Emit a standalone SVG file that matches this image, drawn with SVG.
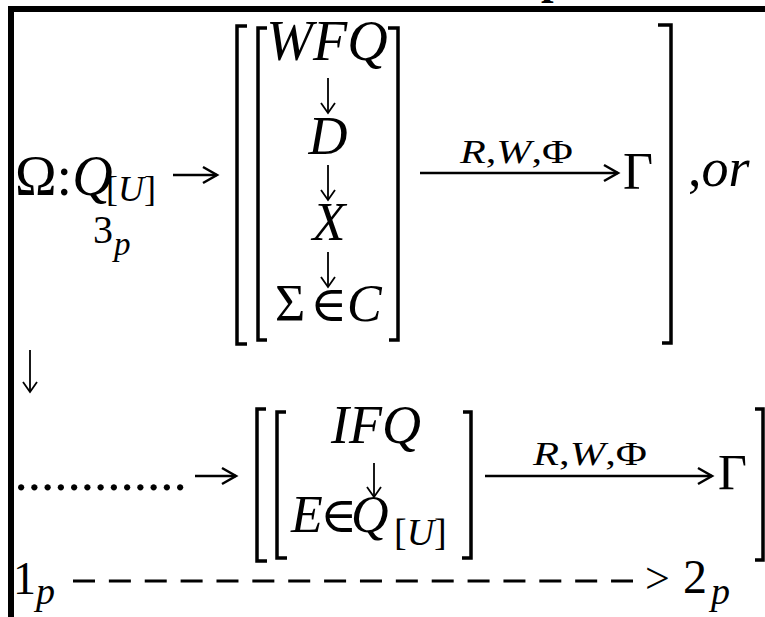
<svg xmlns="http://www.w3.org/2000/svg" width="765" height="617" viewBox="0 0 765 617">
<style>
.t{font-family:"Liberation Serif","DejaVu Serif",serif;fill:#000}
.i{font-style:italic}
.br{fill:none;stroke:#000;stroke-width:3.5}
.ln{fill:none;stroke:#000;stroke-width:2.5}
.dn{fill:none;stroke:#000;stroke-width:1.8}
</style>
<defs>
<marker id="ah" markerUnits="userSpaceOnUse" markerWidth="20" markerHeight="20" viewBox="0 0 20 20" refX="17" refY="10" orient="auto">
<path d="M3,2 L17,10 L3,18" fill="none" stroke="#000" stroke-width="2.5"/>
</marker>
<marker id="ahs" markerUnits="userSpaceOnUse" markerWidth="20" markerHeight="20" viewBox="0 0 20 20" refX="15" refY="10" orient="auto">
<path d="M5,3 L15,10 L5,17" fill="none" stroke="#000" stroke-width="1.8"/>
</marker>
</defs>
<rect width="765" height="617" fill="#fff"/>
<g id="frame">
<path d="M11,617 V9 H765" fill="none" stroke="#000" stroke-width="6"/>
<text class="t" x="541" y="-6" font-size="45" font-weight="bold">p</text>
</g>
<g id="brackets">
<path class="br" d="M247,26 H237 V344 H247"/>
<path class="br" d="M267,28 H258 V340 H267"/>
<path class="br" d="M388,28 H398 V340 H389"/>
<path class="br" d="M658,25 H671 V343 H662"/>
<path class="br" d="M266,409 H257 V561 H267"/>
<path class="br" d="M286,412 H277 V558 H287"/>
<path class="br" d="M463,412 H471 V558 H462"/>
<path class="br" d="M755,409 H763 V560 H755"/>
</g>
<g id="n-omega">
<text class="t" x="15" y="195" font-size="56">Ω:<tspan class="i">Q</tspan></text>
<text class="t" x="106" y="201" font-size="36">[<tspan class="i">U</tspan>]</text>
<text class="t" x="93" y="243" font-size="40">3</text>
<text class="t i" x="114" y="255" font-size="33">p</text>
</g>
<g id="n-wfq"><text class="t i" x="327" y="60" font-size="56" text-anchor="middle">WFQ</text></g>
<g id="n-d"><text class="t i" x="328" y="154" font-size="54" text-anchor="middle">D</text></g>
<g id="n-x"><text class="t i" x="329" y="240" font-size="54" text-anchor="middle">X</text></g>
<g id="n-sigma">
<text class="t" x="275" y="321" font-size="52">Σ</text>
<text class="t" x="310" y="321" font-size="50">∈</text>
<text class="t i" x="347" y="321" font-size="52">C</text>
</g>
<g id="n-rwf1"><text class="t" x="460" y="163" font-size="33" textLength="113" lengthAdjust="spacingAndGlyphs"><tspan class="i">R</tspan>,<tspan class="i">W</tspan>,Φ</text></g>
<g id="n-gamma1"><text class="t" x="623" y="189" font-size="52">Γ</text></g>
<g id="n-or"><text class="t" x="688" y="186" font-size="54">,<tspan class="i">or</tspan></text></g>
<g id="n-dots"><text class="t" x="14.5" y="490" font-size="53">.............</text></g>
<g id="n-ifq"><text class="t i" x="376" y="443" font-size="54" text-anchor="middle">IFQ</text></g>
<g id="n-e">
<text class="t i" x="291" y="532" font-size="52">E</text>
<text class="t" x="320" y="532" font-size="50">∈</text>
<text class="t i" x="351" y="532" font-size="52">Q</text>
<text class="t" x="394" y="545" font-size="38">[<tspan class="i">U</tspan>]</text>
</g>
<g id="n-rwf2"><text class="t" x="533" y="465" font-size="33" textLength="114" lengthAdjust="spacingAndGlyphs"><tspan class="i">R</tspan>,<tspan class="i">W</tspan>,Φ</text></g>
<g id="n-gamma2"><text class="t" x="718" y="489" font-size="50">Γ</text></g>
<g id="n-1p">
<text class="t" x="13" y="594" font-size="46">1</text>
<text class="t i" x="36" y="604" font-size="38">p</text>
</g>
<g id="n-2p">
<text class="t" x="645" y="593" font-size="44">&gt;</text>
<text class="t" x="683" y="593" font-size="48">2</text>
<text class="t i" x="711" y="604" font-size="38">p</text>
</g>
<g id="connectors">
<path class="ln" d="M173,175 H217" marker-end="url(#ah)"/>
<path class="ln" d="M420,173 H618" marker-end="url(#ah)"/>
<path class="ln" d="M195,476 H236" marker-end="url(#ah)"/>
<path class="ln" d="M485,476 H712" marker-end="url(#ah)"/>
<path class="dn" d="M328,78 V113" marker-end="url(#ahs)"/>
<path class="dn" d="M328,165 V200" marker-end="url(#ahs)"/>
<path class="dn" d="M328,252 V287" marker-end="url(#ahs)"/>
<path class="dn" d="M30,350 V392" marker-end="url(#ahs)"/>
<path class="dn" d="M374,463 V497" marker-end="url(#ahs)"/>
<path d="M73,581 H633" fill="none" stroke="#000" stroke-width="3" stroke-dasharray="22 13.87"/>
</g>
</svg>
